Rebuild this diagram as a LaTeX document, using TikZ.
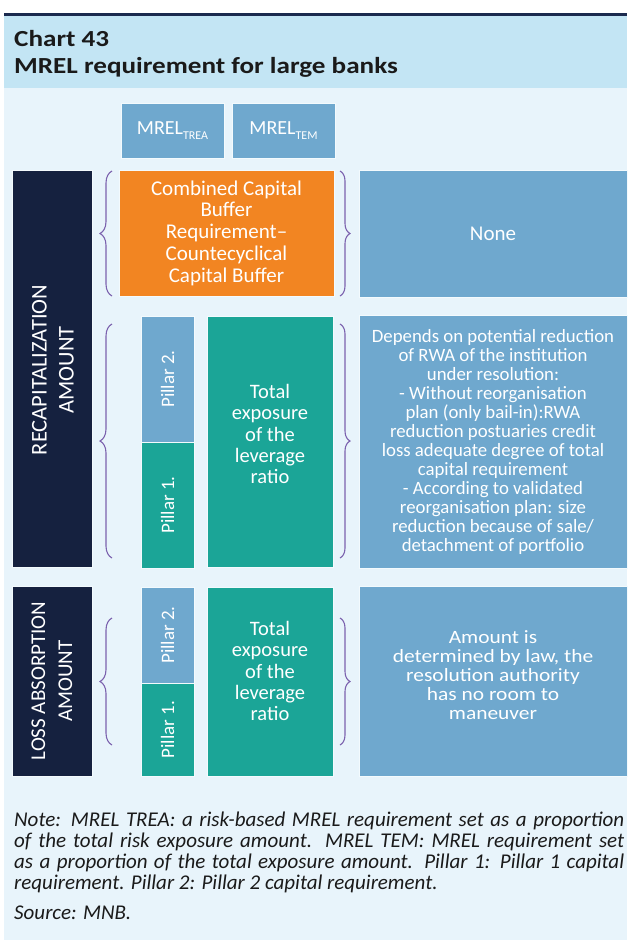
\documentclass[tikz,border=0pt]{standalone}
\usepackage{fontspec}
\setmainfont{Carlito}
\newfontfamily\myTitleFam[FakeStretch=1.18]{Carlito}
\newfontfamily\myWideFam[FakeStretch=1.14]{Carlito}
\usetikzlibrary{decorations.pathreplacing}
\definecolor{navybox}{HTML}{15213F}
\definecolor{topline}{HTML}{1B2A4E}
\definecolor{hdrbg}{HTML}{C3E5F4}
\definecolor{bodybg}{HTML}{E8F4FB}
\definecolor{steelbox}{HTML}{6FA8CE}
\definecolor{orangebox}{HTML}{F28522}
\definecolor{tealbox}{HTML}{1BA597}
\definecolor{bracecol}{HTML}{7B62AE}
\definecolor{titletext}{HTML}{1A1A1A}
\newcommand\myTitleFont{\myTitleFam\fontsize{23}{27}\selectfont\bfseries}
\newcommand\myMrelFont{\fontsize{20}{22}\selectfont}
\newcommand\myOrFont{\fontsize{21}{21.7}\selectfont}
\newcommand\myTotFont{\fontsize{20.5}{21.3}\selectfont}
\newcommand\myDepFont{\fontsize{18.8}{19}\selectfont}
\newcommand\myAmtFont{\myWideFam\fontsize{18.8}{19.2}\selectfont}
\newcommand\myPilFont{\fontsize{19}{21}\selectfont}
\newcommand\myBigFont{\fontsize{21}{27}\selectfont}
\newcommand\myBigFontB{\fontsize{22.5}{27}\selectfont}
\newcommand\myNoteFont{\fontsize{21}{21}\selectfont\itshape}
\newcommand\mysub[1]{\raisebox{-5pt}{\fontsize{12}{12}\selectfont #1}}
\begin{document}
\begin{tikzpicture}[x=1pt,y=-1pt,
  box/.style={draw=bodybg!50!white, line width=0.6pt, inner sep=0pt, text=white, align=center},
  txt/.style={inner sep=0pt, text=white, align=center},
  curly/.style={decorate, decoration={brace, amplitude=#1}, draw=bracecol, line width=1.1pt},
  curly/.default=12pt]
\useasboundingbox (0,0) rectangle (627,940);
\fill[white] (0,0) rectangle (627,940);
\fill[topline] (4,12.5) rectangle (627,15.5);
\fill[hdrbg] (4,15.5) rectangle (627,88);
\fill[bodybg] (4,88) rectangle (627,940);

% title
\node[anchor=base west, inner sep=0pt, font=\myTitleFont, text=titletext] (t1) at (14,46) {Chart 43};
\node[anchor=base west, inner sep=0pt, font=\myTitleFont, text=titletext] (t2) at (14,73) {MREL requirement for large banks};

% column headers
\node[box, fill=steelbox, minimum width=103pt, minimum height=55pt, font=\myMrelFont] (trea) at (172.5,130.5) {MREL\mysub{TREA}};
\node[box, fill=steelbox, minimum width=103pt, minimum height=55pt, font=\myMrelFont] (tem) at (283.5,130.5) {MREL\mysub{TEM}};

% row labels
\node[box, fill=navybox, minimum width=80pt, minimum height=397pt] (recap) at (52,368.5) {};
\node[txt, rotate=90, font=\myBigFontB] (recapt) at (53,370) {RECAPITALIZATION\\AMOUNT};
\node[box, fill=navybox, minimum width=80pt, minimum height=190pt] (loss) at (52,681) {};
\node[txt, rotate=90, font=\myBigFont] (losst) at (loss.center) {LOSS ABSORPTION\\AMOUNT};

% top row
\node[box, fill=orangebox, minimum width=215pt, minimum height=126pt, font=\myOrFont] (buf) at (226.5,233) {Combined Capital\\Buffer\\Requirement--\\Countecyclical\\Capital Buffer};
\node[box, fill=steelbox, minimum width=268pt, minimum height=127pt, font=\myOrFont] (none) at (493,233.5) {None};

% middle row
\node[box, fill=steelbox, minimum width=53pt, minimum height=126pt] (p2a) at (167.5,379) {};
\node[txt, rotate=90, font=\myPilFont] (p2at) at (p2a.center) {Pillar 2.};
\node[box, fill=tealbox, minimum width=53pt, minimum height=126pt] (p1a) at (167.5,505) {};
\node[txt, rotate=90, font=\myPilFont] (p1at) at (p1a.center) {Pillar 1.};
\node[box, fill=tealbox, minimum width=126pt, minimum height=251pt] (tot1) at (270,441.5) {};
\node[txt, font=\myTotFont] (tot1t) at (270,434) {Total\\exposure\\of the\\leverage\\ratio};
\node[box, fill=steelbox, minimum width=268pt, minimum height=253pt, font=\myDepFont] (dep) at (493,441.5) {Depends on potential reduction\\of RWA of the institution\\under resolution:\\- Without reorganisation\\plan (only bail-in):RWA\\reduction postuaries credit\\loss adequate degree of total\\capital requirement\\- According to validated\\reorganisation plan: size\\reduction because of sale/\\detachment of portfolio};

% bottom row
\node[box, fill=steelbox, minimum width=53pt, minimum height=96pt] (p2b) at (167.5,635) {};
\node[txt, rotate=90, font=\myPilFont] (p2bt) at (p2b.center) {Pillar 2.};
\node[box, fill=tealbox, minimum width=53pt, minimum height=93pt] (p1b) at (167.5,729.5) {};
\node[txt, rotate=90, font=\myPilFont] (p1bt) at (p1b.center) {Pillar 1.};
\node[box, fill=tealbox, minimum width=126pt, minimum height=189pt] (tot2) at (270,681.5) {};
\node[txt, font=\myTotFont] (tot2t) at (270,671) {Total\\exposure\\of the\\leverage\\ratio};
\node[box, fill=steelbox, minimum width=268pt, minimum height=190pt] (amt) at (493,681) {};
\node[txt, font=\myAmtFont] (amtt) at (493,675) {Amount is\\determined by law, the\\resolution authority\\has no room to\\maneuver};

% braces
\coordinate (bl1a) at (112,296); \coordinate (bl1b) at (112,171);
\coordinate (br1a) at (340,171); \coordinate (br1b) at (340,296);
\coordinate (bl2a) at (112,558); \coordinate (bl2b) at (112,324);
\coordinate (br2a) at (340,324); \coordinate (br2b) at (340,558);
\coordinate (bl3a) at (112,745); \coordinate (bl3b) at (112,618);
\coordinate (br3a) at (340,618); \coordinate (br3b) at (340,745);
\draw[curly] (bl1a) -- (bl1b);
\draw[curly=10pt] (br1a) -- (br1b);
\draw[curly] (bl2a) -- (bl2b);
\draw[curly=10pt] (br2a) -- (br2b);
\draw[curly] (bl3a) -- (bl3b);
\draw[curly=10pt] (br3a) -- (br3b);

% note
\node[anchor=north west, inner sep=0pt, text width=610pt, align=justify, font=\myNoteFont, text=titletext] (note) at (14,812) {Note: MREL TREA: a risk-based MREL requirement set as a proportion\linebreak of the total risk exposure amount. MREL TEM: MREL requirement set\linebreak as a proportion of the total exposure amount. Pillar 1: Pillar 1 capital\linebreak requirement. Pillar 2: Pillar 2 capital requirement.};
\node[anchor=base west, inner sep=0pt, font=\myNoteFont, text=titletext] (src) at (14,919) {Source: MNB.};
\end{tikzpicture}
\end{document}
